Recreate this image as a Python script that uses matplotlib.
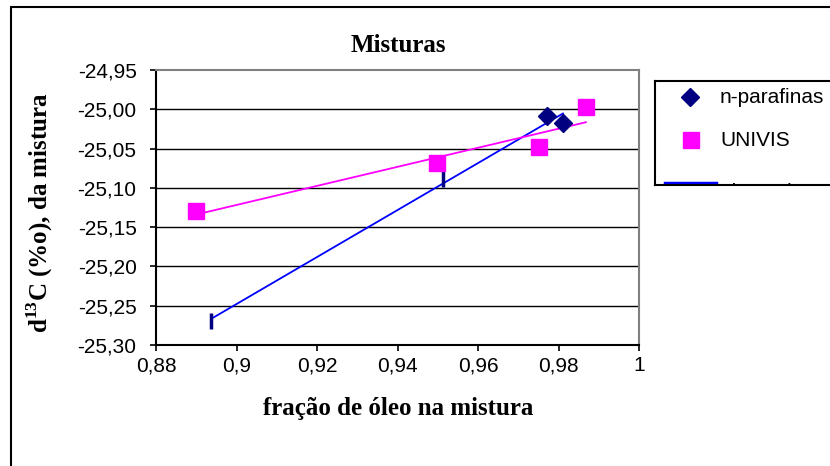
import numpy as np
import matplotlib
matplotlib.use("Agg")
import matplotlib.pyplot as plt
from matplotlib.patches import Rectangle

plt.rcParams['font.family'] = ['Liberation Sans', 'DejaVu Sans']
plt.rcParams['mathtext.fontset'] = 'custom'
plt.rcParams['mathtext.rm'] = 'Liberation Serif'
plt.rcParams['mathtext.bf'] = 'Liberation Serif:bold'

# Data
x_npar = [0.8937, 0.9513, 0.9771, 0.9811]
y_npar = [-25.269, -25.089, -25.0085, -25.0174]
x_univis = [0.8899, 0.9498, 0.9752, 0.9868]
y_univis = [-25.1294, -25.068, -25.048, -24.997]
x_ticks = [0.88, 0.90, 0.92, 0.94, 0.96, 0.98, 1.00]
x_ticklabels = ['0,88', '0,9', '0,92', '0,94', '0,96', '0,98', '1']
y_ticks = [-24.95, -25.00, -25.05, -25.10, -25.15, -25.20, -25.25, -25.30]
y_ticklabels = ['-24,95', '-25,00', '-25,05', '-25,10', '-25,15', '-25,20', '-25,25', '-25,30']
series_names = ['n-parafinas', 'UNIVIS', 'Linear (n-parafinas)']

W, H = 830, 466
fig = plt.figure(figsize=(W / 100, H / 100), dpi=100)
fig.patch.set_facecolor('white')

# outer chart frame
fig.patches.append(Rectangle((11 / W, -0.2), 1.5, (H - 7) / H + 0.2, transform=fig.transFigure,
                             fill=False, edgecolor='black', linewidth=1.5, clip_on=True))

ax = fig.add_axes([156 / W, (H - 345) / H, (639 - 156) / W, (345 - 70) / H])
ax.set_xlim(0.88, 1.0)
ax.set_ylim(-25.30, -24.95)

for yv in y_ticks[1:-1]:
    ax.axhline(yv, color='black', linewidth=1.0, zorder=1)

# trend lines
xn = np.array(x_npar); yn = np.array(y_npar)
pn = np.polyfit(xn, yn, 1)
xx = np.array([xn.min(), xn.max()])
ax.plot(xx, np.polyval(pn, xx), color='#0000FF', linewidth=1.3, zorder=3)

xu = np.array(x_univis); yu = np.array(y_univis)
pu = np.polyfit(xu, yu, 1)
xx = np.array([xu.min(), xu.max()])
ax.plot(xx, np.polyval(pu, xx), color='#FF00FF', linewidth=1.3, zorder=3)

# markers
ax.plot(x_npar[2:], y_npar[2:], linestyle='none', marker='D', markersize=9,
        color='#000080', zorder=4)
ax.plot(x_npar[:2], y_npar[:2], linestyle='none', marker='|', markersize=12,
        markeredgewidth=2.5, color='#000080', zorder=4)
ax.plot(x_univis, y_univis, linestyle='none', marker='s', markersize=11,
        color='#FF00FF', zorder=4)

ax.set_xticks(x_ticks)
ax.set_xticklabels(x_ticklabels)
ax.set_yticks(y_ticks)
ax.set_yticklabels(y_ticklabels)
ax.tick_params(axis='both', direction='out', length=4, width=1.2, labelsize=15, color='black')
ax.tick_params(axis='x', pad=4)
ax.tick_params(axis='y', pad=10)
for s in ['top', 'right']:
    ax.spines[s].set_color('#808080')
    ax.spines[s].set_linewidth(1.5)
for s in ['left', 'bottom']:
    ax.spines[s].set_color('black')
    ax.spines[s].set_linewidth(1.5)

fig.text(398 / W, 1 - 46 / H, 'Misturas', ha='center', va='center',
         fontfamily='Liberation Serif', fontweight='bold', fontsize=18)
fig.text(398 / W, 1 - 408 / H, 'fração de óleo na mistura', ha='center', va='center',
         fontfamily='Liberation Serif', fontweight='bold', fontsize=18)
fig.text(40 / W, 1 - 213 / H, r'd$^{\mathbf{13}}$C (%o), da mistura', ha='center', va='center',
         rotation=90, fontfamily='Liberation Serif', fontweight='bold', fontsize=18)

# legend (clipped box, as in the original)
lw_px = 220
lg = fig.add_axes([655 / W, (H - 185) / H, lw_px / W, (185 - 81) / H])
lg.set_xlim(0, lw_px)
lg.set_ylim(104, 0)
lg.set_xticks([]); lg.set_yticks([])
for s in lg.spines.values():
    s.set_color('black'); s.set_linewidth(1.5)
lg.plot([35], [16], marker='D', markersize=9, color='#000080', linestyle='none', clip_on=True)
lg.text(65, 16, series_names[0], va='center', ha='left', fontsize=15, clip_on=True)
lg.plot([36], [59], marker='s', markersize=11, color='#FF00FF', linestyle='none', clip_on=True)
lg.text(65, 59, series_names[1], va='center', ha='left', fontsize=15, clip_on=True)
lg.plot([10, 61], [102, 102], color='#0000FF', linewidth=2.5, clip_on=True)
lg.text(65, 112, series_names[2], va='center', ha='left', fontsize=15, clip_on=True)

fig.savefig('out.png', dpi=100, facecolor='white')
